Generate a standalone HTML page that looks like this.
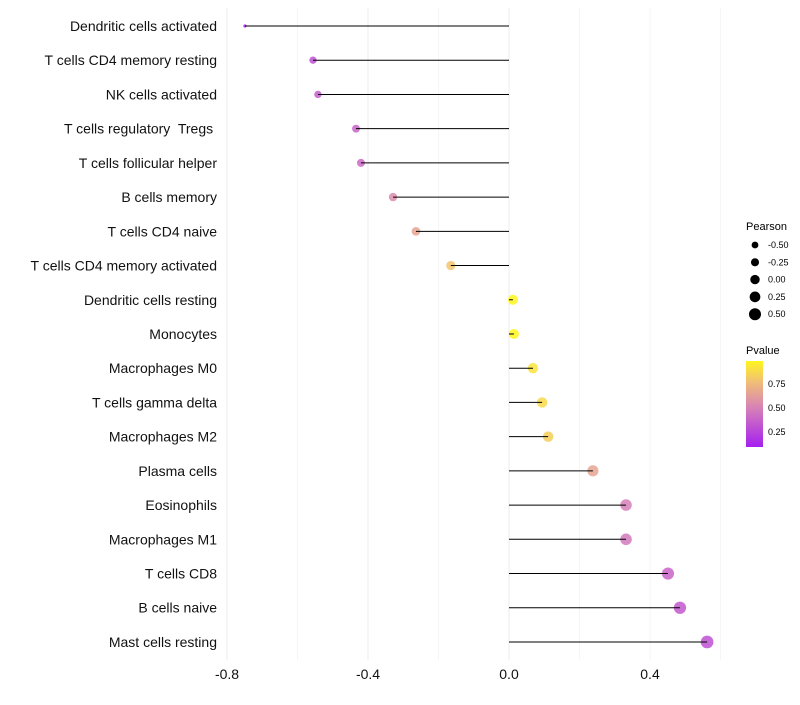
<!DOCTYPE html>
<html><head><meta charset="utf-8"><style>
body{margin:0;background:#fff;font-family:"Liberation Sans",sans-serif}
</style></head><body>
<svg id="chart" width="800" height="700" xmlns="http://www.w3.org/2000/svg" font-family="Liberation Sans, sans-serif">
<defs><linearGradient id="pg" x1="0" y1="1" x2="0" y2="0">
<stop offset="0" stop-color="#a51ff0"/><stop offset="0.45" stop-color="#d680b8"/><stop offset="0.75" stop-color="#f0bd78"/><stop offset="1" stop-color="#fff51e"/></linearGradient></defs>
<g id="grid"></g><g id="marks"></g><g id="labels"></g>
<g id="sizeleg"><text x="746" y="230" font-size="11">Pearson</text></g>
<g><text x="746" y="354" font-size="11">Pvalue</text>
<rect x="746" y="361" width="17" height="86" fill="url(#pg)"/>
<text x="768" y="387" font-size="9">0.75</text><text x="768" y="411" font-size="9">0.50</text><text x="768" y="435" font-size="9">0.25</text></g>
</svg>
<script>
const cells=["Dendritic cells activated","T cells CD4 memory resting","NK cells activated","T cells regulatory\u00a0 Tregs\u00a0","T cells follicular helper","B cells memory","T cells CD4 naive","T cells CD4 memory activated","Dendritic cells resting","Monocytes","Macrophages M0","T cells gamma delta","Macrophages M2","Plasma cells","Eosinophils","Macrophages M1","T cells CD8","B cells naive","Mast cells resting"];
const pearson=[-0.749,-0.556,-0.542,-0.434,-0.420,-0.329,-0.264,-0.165,0.011,0.014,0.068,0.094,0.111,0.238,0.332,0.332,0.451,0.485,0.562];
const pvalue=[0.10,0.30,0.35,0.38,0.40,0.55,0.65,0.78,0.97,0.97,0.90,0.86,0.82,0.65,0.50,0.47,0.38,0.33,0.30];
const xTicks=[-0.8,-0.4,0.0,0.4];
const sizeLegend=[-0.5,-0.25,0,0.25,0.5];
const NS="http://www.w3.org/2000/svg";
const X=v=>509+v*352.5, Y=i=>26+i*34.22, R=v=>v<-0.7?1.6:5+2.4*v;
function col(p){const s=[[0.09,[165,31,240]],[0.5,[214,128,184]],[0.75,[240,189,120]],[0.97,[255,245,30]]];
 if(p<=s[0][0])return`rgb(${s[0][1]})`;for(let k=1;k<s.length;k++){if(p<=s[k][0]){const t=(p-s[k-1][0])/(s[k][0]-s[k-1][0]);return"rgb("+s[k][1].map((c,j)=>Math.round(s[k-1][1][j]+t*(c-s[k-1][1][j]))).join(",")+")";}}return`rgb(${s[3][1]})`;}
function mk(t,a,p){const e=document.createElementNS(NS,t);for(const k in a)e.setAttribute(k,a[k]);p.appendChild(e);return e;}
const g=document.getElementById("grid"),m=document.getElementById("marks"),l=document.getElementById("labels");
for(let v=-0.8;v<=0.61;v+=0.2){const e=mk("line",{x1:X(v),x2:X(v),y1:8,y2:660,stroke:"#ebebeb","stroke-width":Math.abs((v*10)%4)<0.01?1:0.5},g);

}
xTicks.forEach(v=>{const t=mk("text",{x:X(v),y:679,"font-size":14,"text-anchor":"middle",fill:"#111"},l);t.textContent=v.toFixed(1);

});
cells.forEach((c,i)=>{const y=Y(i);
const t=mk("text",{x:217,y:y+5,"font-size":14,"text-anchor":"end",fill:"#111"},l);t.textContent=c;


const d=mk("circle",{cx:X(pearson[i]),cy:y,r:R(pearson[i]),fill:col(pvalue[i]),"fill-opacity":0.85},m);


const ln=mk("line",{x1:X(0),x2:X(pearson[i]),y1:y,y2:y,stroke:"#000","stroke-width":1},m);

});
const sl=document.getElementById("sizeleg");
sizeLegend.forEach((v,i)=>{const y=245+i*17.3;
const c=mk("circle",{cx:755,cy:y,r:3.4+1.3*(v+0.5)*2,fill:"#000"},sl);


const t=mk("text",{x:768,y:y+3,"font-size":9},sl);t.textContent=v.toFixed(2);

});
</script>
</body></html>
